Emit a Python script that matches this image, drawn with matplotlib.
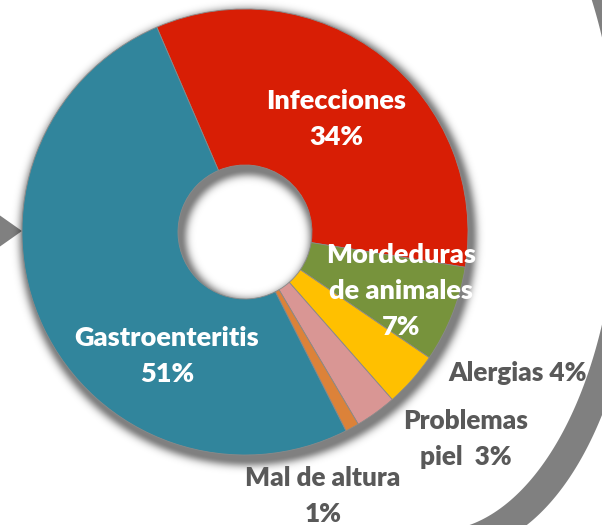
import numpy as np
import matplotlib
matplotlib.use("Agg")
import matplotlib.pyplot as plt
from matplotlib.patches import Polygon

# ---- data ----
categories = ["Infecciones", "Mordeduras de animales", "Alergias",
              "Problemas piel", "Mal de altura", "Gastroenteritis"]
values = [34, 7, 4, 3, 1, 51]
colors = ["#D81E05", "#77933C", "#FFC000", "#D99694", "#DC8239", "#31859C"]
label_texts = ["Infecciones\n34%", "Mordeduras\nde animales\n7%", "Alergias 4%",
               "Problemas\npiel  3%", "Mal de altura\n1%", "Gastroenteritis\n51%"]
label_colors = ["white", "white", "#595959", "#595959", "#595959", "white"]
label_sizes = [19.5, 19.5, 18.8, 18.8, 18.8, 19.5]

W, H = 602, 525
fig = plt.figure(figsize=(W / 100, H / 100), dpi=100)
ax = fig.add_axes([0, 0, 1, 1])
ax.set_xlim(0, W)
ax.set_ylim(0, H)
ax.axis("off")

def Y(y):  # image row -> data y
    return H - y

# ---- background crescent (gray ring on the right) ----
t = np.linspace(-np.pi / 2, np.pi / 2, 300)
cx1, cy1, rx, ry = 436, 181, 182, 350
inner = np.column_stack([cx1 + rx * np.cos(t), Y(cy1 + ry * np.sin(t))])
cx2, cy2 = cx1 + 22, cy1 + 20
outer = np.column_stack([cx2 + rx * np.cos(t[::-1]), Y(cy2 + ry * np.sin(t[::-1]))])
ax.add_patch(Polygon(np.vstack([inner, outer]), closed=True, facecolor="#808080",
                     edgecolor="none", zorder=0))
# left arrow tip
ax.add_patch(Polygon([[-5, Y(212)], [22, Y(231)], [-5, Y(250)]], closed=True,
                     facecolor="#808080", edgecolor="none", zorder=0))

# ---- donut geometry ----
cx, cy = 245, 232
R_out, R_in = 223, 67

# soft drop shadow of the ring
xs = np.arange(0, W) + 0.5
ys = np.arange(0, H) + 0.5
XX, YY = np.meshgrid(xs, ys)
d = np.hypot(XX - (cx + 3), YY - (cy + 5))
sd = np.maximum(d - R_out, R_in - d)
alpha = np.where(sd <= 0, 0.5, 0.5 * np.exp(-(sd / 7.0) ** 2))
img = np.zeros((H, W, 4))
img[..., 3] = alpha
ax.imshow(img, extent=[0, W, 0, H], origin="upper", zorder=1, interpolation="bilinear")

start = 113.3
wedges, _ = ax.pie(values, colors=colors, startangle=start, counterclock=False,
                   center=(cx, Y(cy)), radius=R_out,
                   wedgeprops=dict(width=R_out - R_in, edgecolor="#8a8a8a", linewidth=0.6))
for w in wedges:
    w.set_zorder(2)
ax.set_xlim(0, W)
ax.set_ylim(0, H)
ax.set_aspect("equal")
ax.axis("off")

# ---- labels ----
label_pos = [(336, 119), (401, 291), (518, 373), (466, 439), (323, 496), (167, 356)]
for txt, (lx, ly), c, fs in zip(label_texts, label_pos, label_colors, label_sizes):
    ax.text(lx, Y(ly), txt, ha="center", va="center", color=c, fontsize=fs,
            fontweight="heavy", family="Lato", linespacing=1.6, zorder=5)

fig.savefig("out.png", dpi=100)
